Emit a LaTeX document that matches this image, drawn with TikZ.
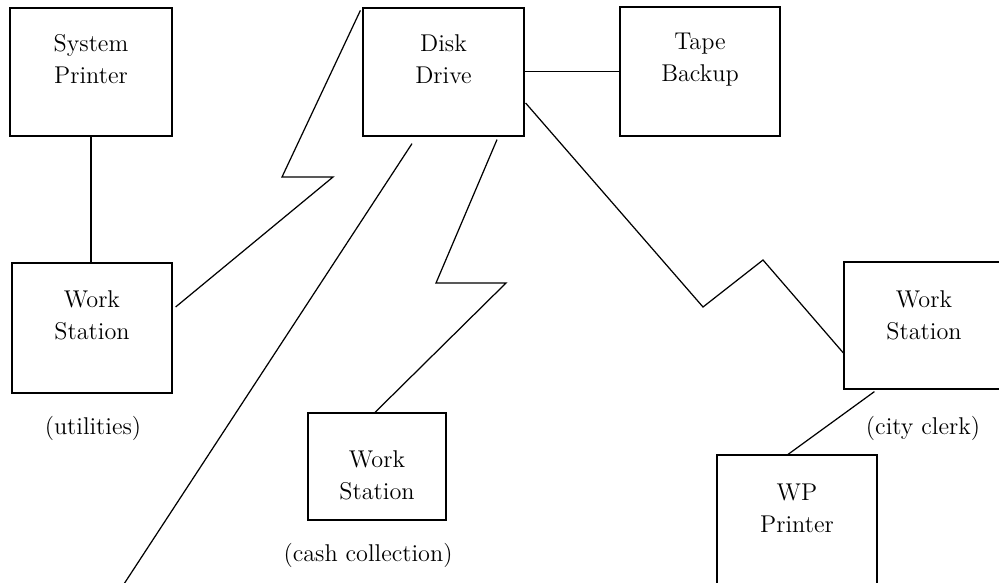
\documentclass[tikz,border=0pt]{standalone}
\usetikzlibrary{positioning}
\begin{document}
\begin{tikzpicture}[x=0.02cm,y=-0.02cm,line width=0.7pt,
    unit/.style={draw,rectangle,inner sep=0pt},
    txt/.style={align=center,font=\fontsize{13.8}{18.2}\selectfont},
    note/.style={font=\fontsize{13.8}{16}\selectfont}]
            \useasboundingbox (0,0) rectangle (999,582);
            \clip (0,0) rectangle (999,582);
            \node[unit,minimum width=3.24cm,minimum height=2.56cm] (sp) at (91,72) {};
            \node[unit,minimum width=3.22cm,minimum height=2.56cm] (dd) at (443.5,72) {};
            \node[unit,minimum width=3.2cm,minimum height=2.58cm] (tb) at (700,71.5) {};
            \node[unit,minimum width=3.2cm,minimum height=2.6cm] (wsu) at (92,328) {};
            \node[unit,minimum width=2.76cm,minimum height=2.14cm] (wsc) at (377,466.5) {};
            \node[unit,minimum width=3.2cm,minimum height=2.54cm] (wsk) at (924,325.5) {};
            \node[unit,minimum width=3.2cm,minimum height=2.9cm] (wp) at (797,527.5) {};
            \node[txt] (sptext) at ([shift={(0,52)}]sp.north) {System\\Printer};
            \node[txt] (ddtext) at ([shift={(0,52)}]dd.north) {Disk\\Drive};
            \node[txt] (tbtext) at ([shift={(0,53)}]tb.north) {Tape\\Backup};
            \node[txt] (wsutext) at ([shift={(0,53)}]wsu.north) {Work\\Station};
            \node[txt] (wsctext) at ([shift={(0,63)}]wsc.north) {Work\\Station};
            \node[txt] (wsktext) at ([shift={(0,54)}]wsk.north) {Work\\Station};
            \node[txt] (wptext) at ([shift={(0,53.5)}]wp.north) {WP\\Printer};
            \node[note] (wsunote) at ([shift={(1,35)}]wsu.south) {(utilities)};
            \node[note] (wscnote) at ([shift={(-9,35)}]wsc.south) {(cash collection)};
            \node[note] (wsknote) at ([shift={(-1,39)}]wsk.south) {(city clerk)};
            \coordinate (lineend) at (122,587);
            \draw (sp.south) -- (sp.south |- wsu.north);
            \draw (dd.east |- tb.west) -- (tb.west);
            \draw ([shift={(3,-21)}]wsu.east) -- (333,177) -- (282,177) -- ([shift={(-2,3)}]dd.north west);
            \draw ([shift={(-31.5,7)}]dd.south) -- (lineend);
            \draw ([shift={(53.5,3)}]dd.south) -- (436,283) -- (506,283) -- ([shift={(-2,0)}]wsc.north);
            \draw ([shift={(1,31)}]dd.east) -- (703,307) -- (763,260) -- ([shift={(0,27.5)}]wsk.west);
            \draw ([shift={(31,2)}]wsk.south west) -- ([shift={(-9,0)}]wp.north);
\end{tikzpicture}
\end{document}
